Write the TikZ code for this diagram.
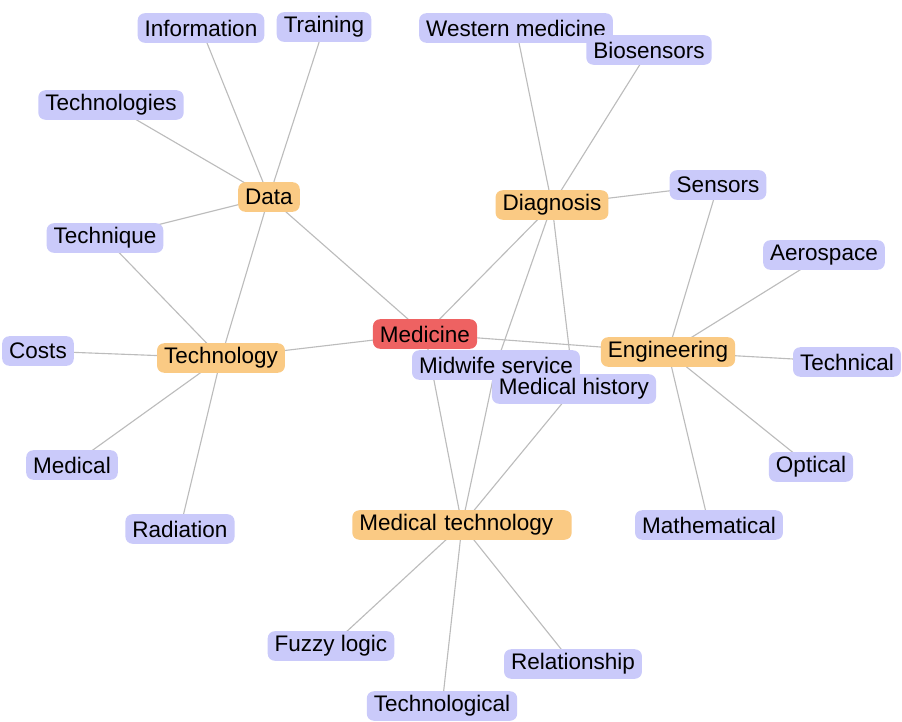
\documentclass[tikz,border=0pt]{standalone}
\usepackage{fontspec}
\setmainfont{Liberation Sans}
\usetikzlibrary{backgrounds}
\definecolor{leafblue}{RGB}{202,202,250}
\definecolor{huborange}{RGB}{250,202,132}
\definecolor{rootred}{RGB}{238,98,98}
\definecolor{linkgray}{RGB}{188,188,188}
\begin{document}
\begin{tikzpicture}[x=0.025cm,y=-0.025cm,
  box/.style={rounded corners=5pt,minimum height=21pt,inner xsep=5pt,inner ysep=2pt,font=\fontsize{16}{18}\selectfont,text=black},
  leaf/.style={box,fill=leafblue},
  hub/.style={box,fill=huborange},
  root/.style={box,fill=rootred},
  link/.style={color=linkgray,line width=0.8pt}]
\useasboundingbox (0,0) rectangle (902,722);
% centre
\node[root] (medicine) at (425,334) {Medicine};
% hubs
\node[hub] (data) at (269,197) {Data};
\node[hub] (diagnosis) at (552,205) {Diagnosis};
\node[hub] (technology) at (221,358) {Technology};
\node[hub] (engineering) at (668,352) {Engineering};
\node[hub,text width=146pt,align=left] (medtech) at (462,525) {Medical technology};
% leaves
\node[leaf] (information) at (201,28) {Information};
\node[leaf] (training) at (324,27) {Training};
\node[leaf] (technologies) at (111,105) {Technologies};
\node[leaf] (technique) at (105,238) {Technique};
\node[leaf] (western) at (516,28) {Western medicine};
\node[leaf] (biosensors) at (649,50) {Biosensors};
\node[leaf] (sensors) at (718,185) {Sensors};
\node[leaf] (aerospace) at (824,255) {Aerospace};
\node[leaf] (technical) at (847,362) {Technical};
\node[leaf] (optical) at (811,467) {Optical};
\node[leaf] (mathematical) at (709,525) {Mathematical};
\node[leaf] (costs) at (38,351) {Costs};
\node[leaf] (medical) at (72,465) {Medical};
\node[leaf] (radiation) at (180,529) {Radiation};
\node[leaf] (midwife) at (496,365) {Midwife service};
\node[leaf] (history) at (574,389) {Medical history};
\node[leaf] (fuzzy) at (331,646) {Fuzzy logic};
\node[leaf] (relationship) at (573,664) {Relationship};
\node[leaf] (technological) at (442,706) {Technological};
% connectors
\begin{pgfonlayer}{background}
\foreach \a/\b in {medicine/data,medicine/diagnosis,medicine/technology,medicine/engineering,medicine/medtech,
  data/information,data/training,data/technologies,data/technique,data/technology,
  technology/technique,technology/costs,technology/medical,technology/radiation,
  diagnosis/western,diagnosis/biosensors,diagnosis/sensors,diagnosis/midwife,diagnosis/history,
  engineering/sensors,engineering/aerospace,engineering/technical,engineering/optical,engineering/mathematical,
  medtech/midwife,medtech/history,medtech/fuzzy,medtech/relationship,medtech/technological}
  \draw[link] (\a.center) -- (\b.center);
\end{pgfonlayer}
\end{tikzpicture}
\end{document}
